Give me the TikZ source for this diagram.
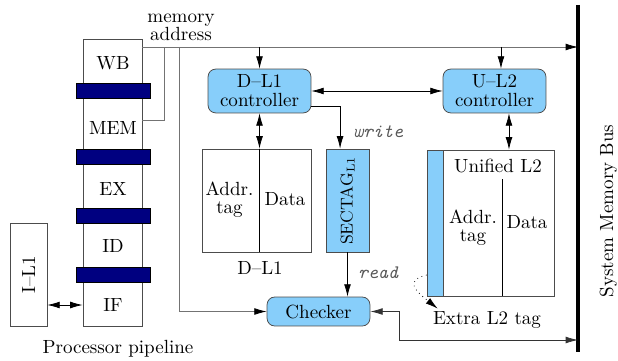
\documentclass[tikz,border=0pt]{standalone}
\usetikzlibrary{arrows.meta}
\definecolor{ctrlblue}{RGB}{135,206,250}
\definecolor{latchblue}{RGB}{0,0,128}
\begin{document}
\begin{tikzpicture}
  [x=0.525pt,y=-0.525pt,
  >={Latex[length=6.5pt,width=3.6pt]},
  box/.style={draw=black!70,fill=white,inner sep=0pt},
  ctrl/.style={draw=black!70,fill=ctrlblue,rounded corners=4pt,inner sep=0pt,
    minimum width=54pt,minimum height=23pt,align=center},
  latch/.style={draw=black,fill=latchblue,inner sep=0pt,
    minimum width=38.9pt,minimum height=7.9pt},
  wire/.style={draw=black!55},
  sig/.style={font=\ttfamily\itshape,text=black!65}]
\useasboundingbox (0,0) rectangle (618,360);

% pipeline and I-cache
\node[box,minimum width=31pt,minimum height=150.7pt] (pipe) at (112.5,182.5) {};
\foreach \y [count=\i] in {90.5,156.5,215.5,274.5}
  \node[latch] (latch\i) at (113,\y) {};
\node (wb) at (113,63) {WB};
\node (mem) at (113,128) {MEM};
\node (ex) at (113,189) {EX};
\node (id) at (113,246) {ID};
\node (if) at (113,305) {IF};
\node (pplabel) at (118,349) {Processor pipeline};
\node[box,minimum width=19.4pt,minimum height=54.1pt] (il1) at (28.5,274.5)
  {\rotatebox{90}{I--L1}};
\draw[<->] (il1.east |- if) -- (pipe.west |- if);

% system bus
\coordinate (bustop) at (578,5);
\coordinate (busbot) at (578,352);
\draw[line width=1.6pt] (bustop) -- (busbot);
\node[rotate=90,anchor=base] (buslabel) at (613,211) {System Memory Bus};

% address lines
\node[align=center] (addrlabel) at (181,27) {memory\\[-2.5pt]address};
\coordinate (wbout) at (142,47);
\coordinate (memout) at (142,120);
\coordinate (memtap) at (164,47);
\coordinate (chktap) at (179,47);
\draw[wire,-{Latex[length=6.5pt,width=3.6pt,color=black]}] (wbout) -- (wbout -| bustop);
\draw[wire] (memout) -| (memtap);

% controllers
\node[ctrl] (dctrl) at (259.5,91) {D--L1\\[-2pt]controller};
\node[ctrl] (uctrl) at (494.5,91) {U--L2\\[-2pt]controller};
\coordinate (uin) at ([xshift=3.4pt]uctrl.north);
\draw[->] (dctrl.north |- wbout) -- (dctrl.north);
\draw[->] (uin |- wbout) -- (uin);
\draw[<->] (dctrl) -- (uctrl);

% D-L1
\node[box,minimum width=57.2pt,minimum height=54.1pt] (dl1) at (256.5,200.5) {};
\draw[<->] (dctrl.south) -- (dctrl.south |- dl1.north);
\draw (dctrl.south |- dl1.north) -- (dctrl.south |- dl1.south);
\node[align=center] (dtag) at (229.5,200) {Addr.\\[-2.5pt]tag};
\node (ddata) at (285,199) {Data};
\node (dl1label) at (260,268) {D--L1};

% SECTAG and checker
\node[box,fill=ctrlblue,minimum width=22.6pt,minimum height=54.1pt] (sectag) at (347.5,200.5)
  {\rotatebox{90}{\small SECTAG$_{\mathrm{L1}}$}};
\coordinate (dout) at ([yshift=-7.9pt]dctrl.east);
\coordinate (secin) at ([xshift=-3.9pt]sectag.north);
\draw[->] (dout) -| (secin);
\node[sig] (wlabel) at (378,132) {write};
\node[ctrl,minimum height=15.2pt] (checker) at (318.5,311.5) {Checker};
\draw[->] (sectag.south) -- (sectag.south |- checker.north);
\node[sig] (rlabel) at (378,273) {read};
\draw[wire,-{Latex[length=6.5pt,width=3.6pt,color=black]}] (chktap) |- (checker.west);
\coordinate (chkbus) at (399,340);
\draw[black!80,<->] (checker.east) -| (chkbus) -- (chkbus -| bustop);

% unified L2
\node[box,minimum width=66.7pt,minimum height=76.7pt] (ul2) at (490.5,223) {};
\node[box,fill=ctrlblue,minimum width=8.4pt,minimum height=76.7pt,anchor=west] (xstrip) at (ul2.west) {};
\coordinate (ul2div) at (502,179);
\draw (ul2div) -- (ul2div |- ul2.south);
\node (ul2label) at (498,166) {Unified L2};
\node[align=center] (utag) at (473,228) {Addr.\\[-2.5pt]tag};
\node (udata) at (527,222) {Data};
\coordinate (ul2in) at ([xshift=7.6pt]uctrl.south);
\draw[<->] (ul2in) -- (ul2in |- ul2.north);
\node (xtaglabel) at (487,320) {Extra L2 tag};
\draw[dotted,->] ([yshift=-27.3pt]xstrip.west) .. controls +(-24,6) and +(-20,-16) ..
  ([xshift=6pt,yshift=-2pt]xtaglabel.north west);
\end{tikzpicture}
\end{document}
